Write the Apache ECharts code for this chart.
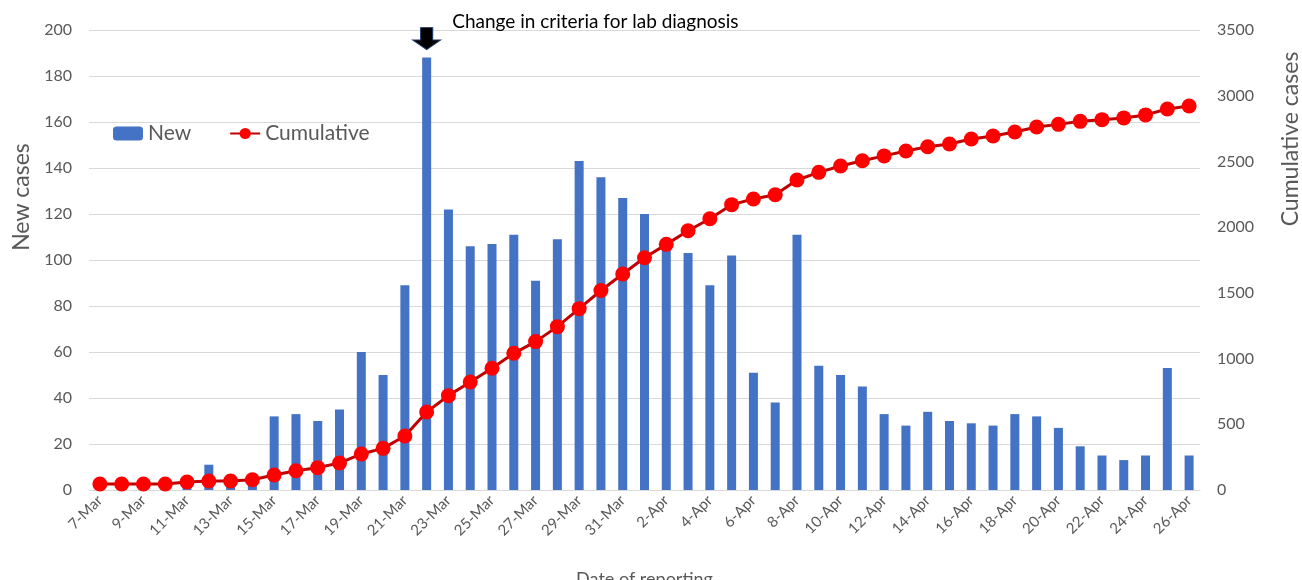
<!DOCTYPE html>
<html lang="en">
<head>
    <meta charset="UTF-8">
    <title>New and cumulative cases</title>
    <script src="https://cdn.jsdelivr.net/npm/echarts@6/dist/echarts.min.js"></script>
    <style type="text/css">
        html, body { margin: 0; padding: 0; background: #fff; }
    </style>
</head>
<body>
<div id="myChart" style="width: 1302px;height:580px;"></div>

<script>
    // dates of reporting
    var dates = ['7-Mar', '8-Mar', '9-Mar', '10-Mar', '11-Mar', '12-Mar', '13-Mar', '14-Mar', '15-Mar', '16-Mar',
        '17-Mar', '18-Mar', '19-Mar', '20-Mar', '21-Mar', '22-Mar', '23-Mar', '24-Mar', '25-Mar', '26-Mar',
        '27-Mar', '28-Mar', '29-Mar', '30-Mar', '31-Mar', '1-Apr', '2-Apr', '3-Apr', '4-Apr', '5-Apr',
        '6-Apr', '7-Apr', '8-Apr', '9-Apr', '10-Apr', '11-Apr', '12-Apr', '13-Apr', '14-Apr', '15-Apr',
        '16-Apr', '17-Apr', '18-Apr', '19-Apr', '20-Apr', '21-Apr', '22-Apr', '23-Apr', '24-Apr', '25-Apr',
        '26-Apr'];

    var newCases = [0, 0, 0, 0, 2, 11, 2, 3, 32, 33,
        30, 35, 60, 50, 89, 188, 122, 106, 107, 111,
        91, 109, 143, 136, 127, 120, 106, 103, 89, 102,
        51, 38, 111, 54, 50, 45, 33, 28, 34, 30,
        29, 28, 33, 32, 27, 19, 15, 13, 15, 53,
        15];

    var cumulative = [46, 46, 46, 46, 61, 68, 68, 78, 114, 147,
        170, 205, 274, 317, 411, 594, 718, 822, 926, 1040,
        1129, 1243, 1380, 1518, 1643, 1767, 1869, 1973, 2064, 2171,
        2214, 2247, 2359, 2417, 2465, 2505, 2542, 2579, 2612, 2633,
        2671, 2694, 2724, 2762, 2782, 2805, 2818, 2831, 2854, 2899,
        2922];

    var leftTicks = {min: 0, max: 200, interval: 20};
    var rightTicks = {min: 0, max: 3500, interval: 500};

    var noteDate = '22-Mar';
    var noteText = 'Change in criteria for lab diagnosis';

    var grey = '#595959';
    var font = 'Lato, "Open Sans", sans-serif';

    var myChart = echarts.init(document.getElementById('myChart'));

    var option = {
        backgroundColor: '#fff',
        textStyle: {fontFamily: font},
        animation: false,
        grid: {left: 89, right: 102, top: 30, bottom: 90, containLabel: false, outerBoundsMode: 'none'},
        legend: {
            left: 108,
            top: 118,
            itemGap: 38,
            itemWidth: 30,
            itemHeight: 14,
            textStyle: {fontSize: 21, color: grey, fontFamily: font},
            data: ['New', 'Cumulative']
        },
        xAxis: {
            type: 'category',
            data: dates,
            name: 'Date of reporting',
            nameLocation: 'middle',
            nameGap: 80,
            nameTextStyle: {fontSize: 18, color: grey},
            axisLine: {lineStyle: {color: '#d9d9d9', width: 1}},
            axisTick: {show: false},
            axisLabel: {
                interval: 1,
                rotate: 45,
                fontSize: 15,
                color: grey,
                margin: 8
            }
        },
        yAxis: [
            {
                type: 'value',
                min: leftTicks.min,
                max: leftTicks.max,
                interval: leftTicks.interval,
                axisLine: {show: false},
                axisTick: {show: false},
                axisLabel: {fontSize: 16, color: grey, margin: 17},
                splitLine: {lineStyle: {color: '#d9d9d9', width: 1}}
            },
            {
                type: 'value',
                min: rightTicks.min,
                max: rightTicks.max,
                interval: rightTicks.interval,
                axisLine: {show: false},
                axisTick: {show: false},
                axisLabel: {fontSize: 16, color: grey, margin: 17, formatter: function (v) { return String(v); }},
                splitLine: {show: false}
            }
        ],
        graphic: [
            {
                type: 'text',
                x: 22, y: 197,
                rotation: Math.PI / 2,
                style: {text: 'New cases', fontSize: 23, fill: grey, fontFamily: font,
                    align: 'center', verticalAlign: 'middle'}
            },
            {
                type: 'text',
                x: 1291, y: 139,
                rotation: Math.PI / 2,
                style: {text: 'Cumulative cases', fontSize: 23, fill: grey, fontFamily: font,
                    align: 'center', verticalAlign: 'middle'}
            }
        ],
        series: [
            {
                name: 'New',
                type: 'bar',
                yAxisIndex: 0,
                barWidth: 9,
                itemStyle: {color: '#4472c4'},
                data: newCases,
                markPoint: {
                    silent: true,
                    symbol: 'path://M4,0 L10,0 L10,9 L14,9 L7,16 L0,9 L4,9 Z',
                    symbolSize: [28, 22],
                    symbolOffset: [0, -19],
                    itemStyle: {color: '#000', borderColor: '#1f3864', borderWidth: 1},
                    label: {
                        show: true,
                        position: 'right',
                        formatter: noteText,
                        fontSize: 19,
                        color: '#000',
                        fontFamily: font,
                        offset: [6, -17]
                    },
                    data: [{coord: [noteDate, newCases[dates.indexOf(noteDate)]]}]
                }
            },
            {
                name: 'Cumulative',
                type: 'line',
                yAxisIndex: 1,
                symbol: 'circle',
                symbolSize: 15,
                showAllSymbol: true,
                itemStyle: {color: '#ff0000'},
                lineStyle: {color: '#c00000', width: 3},
                data: cumulative
            }
        ]
    };

    myChart.setOption(option);
</script>
</body>
</html>
